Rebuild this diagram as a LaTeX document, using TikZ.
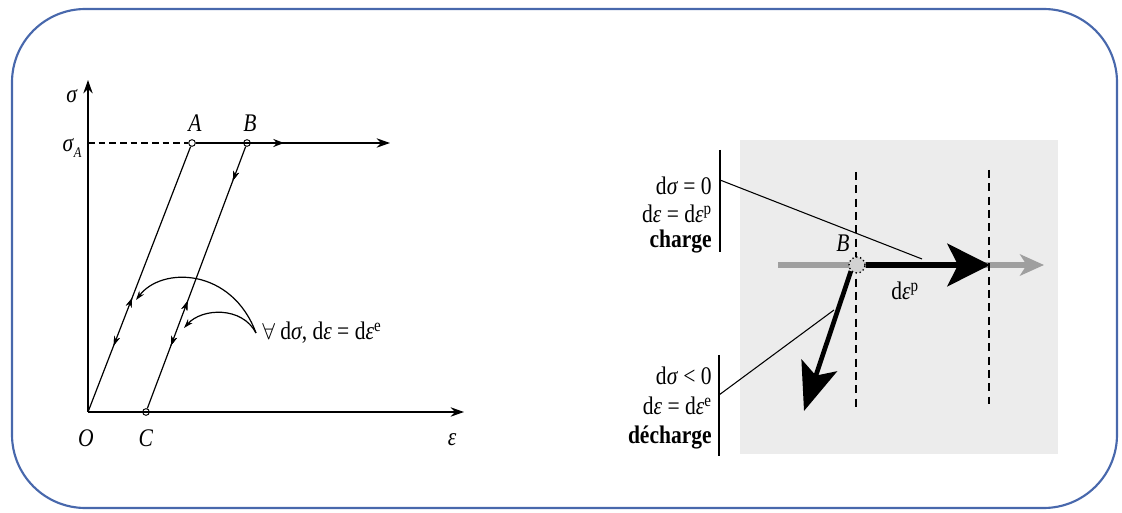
\documentclass[tikz,border=0pt]{standalone}
\usepackage{fontspec}
\setmainfont[FakeStretch=0.85]{Liberation Serif}
\usetikzlibrary{arrows.meta,decorations.markings}
\definecolor{frameblue}{RGB}{72,104,172}
\tikzset{
  lbl/.style={font=\fontsize{19}{22}\selectfont, inner sep=0pt},
  axis/.style={line width=1.3pt, -{Stealth[length=10pt,width=7pt]}},
  path/.style={line width=0.9pt},
  pt/.style={circle, draw, fill=white, inner sep=0pt, minimum size=5pt, line width=0.7pt},
  midup/.style={postaction={decorate}, decoration={markings, mark=at position #1 with {\arrow{Stealth[length=7pt,width=4.5pt]}}}},
  middown/.style={postaction={decorate}, decoration={markings, mark=at position #1 with {\arrowreversed{Stealth[length=7pt,width=4.5pt]}}}},
  bigarrow/.style={line width=4pt, -{Stealth[length=32pt,width=32pt,inset=8pt]}},
  dashv/.style={dashed, line width=0.9pt, dash pattern=on 6pt off 4pt},
  conn/.style={line width=0.8pt},
  bar/.style={line width=1.2pt}
}
\newcommand{\gsig}{\textit{σ}}
\newcommand{\geps}{\textit{ε}}
\begin{document}
\begin{tikzpicture}[x=0.75pt,y=-0.75pt]
\useasboundingbox (0,0) rectangle (1122,513);
\draw[frameblue, line width=1.6pt, rounded corners=55pt] (12,9) rectangle (1117,508);

% ---------- left diagram ----------
\coordinate (O) at (88,412);
\coordinate (ytop) at (88,80);
\coordinate (xend) at (464,412);
\coordinate (sA) at (88,143);
\coordinate (hend) at (390,143);
\coordinate (Bs) at (284,143);
\coordinate (L) at (256,333);
\coordinate (arc1) at (136,300);
\coordinate (arc2) at (184,328);
\node[pt] (A) at (192,143) {};
\node[pt] (B) at (247,143) {};
\node[pt] (C) at (146,412) {};

\draw[axis] (O) -- (ytop);
\draw[axis] (O) -- (xend);
\draw[dashed, line width=0.9pt, dash pattern=on 5pt off 3pt] (sA) -- (A);
\draw[axis] (A) -- (hend);
\draw[line width=2pt, -{Stealth[length=8pt,width=6pt]}] (B) -- (Bs);
\draw[path, midup=0.43, middown=0.25] (O) -- (A);
\draw[path, middown=0.87, midup=0.41, middown=0.24] (C) -- (B);
\draw[line width=0.9pt, -{Stealth[length=7pt,width=4.5pt]}] (L) .. controls (232,268) and (162,266) .. (arc1);
\draw[line width=0.9pt, -{Stealth[length=7pt,width=4.5pt]}] (L) .. controls (242,306) and (202,308) .. (arc2);

\node[lbl] (lsig) at (72,96) {\gsig};
\node[lbl] (lsigA) at (72,148) {\gsig\raisebox{-4pt}{\fontsize{11}{11}\selectfont\textit{A}}};
\node[lbl] (lA) at (195,123) {\textit{A}};
\node[lbl] (lB) at (250,123) {\textit{B}};
\node[lbl] (lO) at (86,438) {\textit{O}};
\node[lbl] (lC) at (146,438) {\textit{C}};
\node[lbl] (leps) at (452,440) {\geps};
\node[lbl, anchor=west] (lforall) at (262,333) {$\forall$ d\gsig, d\geps{} = d\geps\textsuperscript{e}};

% ---------- right diagram ----------
\fill[gray!15] (740,140) rectangle (1058,454);
\coordinate (gstart) at (778,265);
\coordinate (gend) at (1044,265);
\coordinate (tip1) at (990,265);
\coordinate (tip2) at (804,411);
\coordinate (d1t) at (856,172);
\coordinate (d1b) at (856,408);
\coordinate (d2t) at (989,170);
\coordinate (d2b) at (989,404);
\draw[gray!75, line width=4pt, -{Stealth[length=18pt,width=16pt,inset=5pt]}] (gstart) -- (gend);
\draw[dashv] (d1t) -- (d1b);
\draw[dashv] (d2t) -- (d2b);
\node[circle, fill=gray!35, draw, dotted, line width=1pt, inner sep=0pt, minimum size=12pt] (RB) at (857,265) {};
\draw[bigarrow] (RB.east) -- (tip1);
\draw[line width=3.5pt, -{Stealth[length=36pt,width=28pt,inset=8pt]}] (RB.south west) -- (tip2);
\node[lbl] (lRB) at (843,243) {\textit{B}};
\node[lbl] (ldep) at (905,291) {d\geps\textsuperscript{p}};

\coordinate (bar1t) at (720,150);
\coordinate (bar1b) at (720,252);
\coordinate (bar2t) at (719,355);
\coordinate (bar2b) at (719,456);
\draw[bar] (bar1t) -- (bar1b);
\draw[bar] (bar2t) -- (bar2b);
\coordinate (c1s) at (720,180);
\coordinate (c1e) at (922,259);
\coordinate (c2s) at (719,395);
\coordinate (c2e) at (834,310);
\draw[conn] (c1s) -- (c1e);
\draw[conn] (c2s) -- (c2e);

\node[lbl, anchor=east] (t1) at (712,186) {d\gsig{} = 0};
\node[lbl, anchor=east] (t2) at (712,214) {d\geps{} = d\geps\textsuperscript{p}};
\node[lbl, anchor=east] (t3) at (712,242) {\textbf{charge}};
\node[lbl, anchor=east] (t4) at (712,376) {d\gsig{} < 0};
\node[lbl, anchor=east] (t5) at (712,406) {d\geps{} = d\geps\textsuperscript{e}};
\node[lbl, anchor=east] (t6) at (712,437) {\textbf{décharge}};
\end{tikzpicture}
\end{document}
